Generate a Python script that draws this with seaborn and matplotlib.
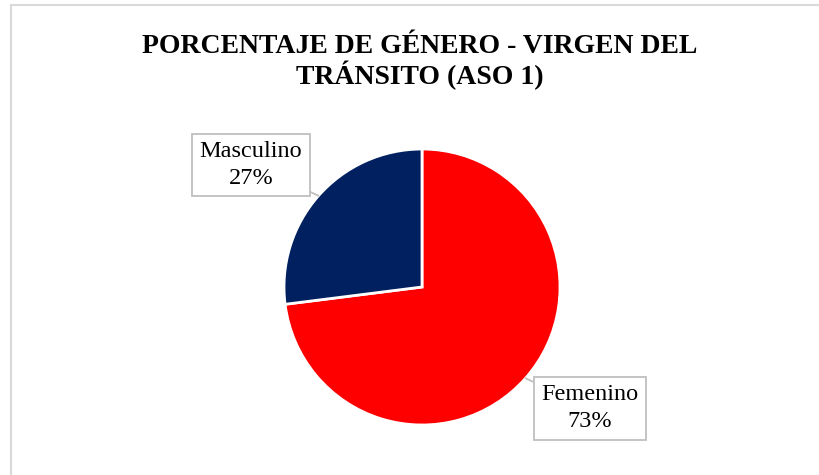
import numpy as np
import seaborn as sns
import matplotlib.pyplot as plt
from matplotlib.patches import Rectangle

categories = ['Femenino', 'Masculino']
values = [73, 27]
colors = ['#FF0000', '#002060']
title = 'PORCENTAJE DE GÉNERO - VIRGEN DEL\nTRÁNSITO (ASO 1)'

sns.set_theme(style='white')
plt.rcParams['font.family'] = ['Liberation Serif', 'DejaVu Serif']
plt.rcParams['text.color'] = 'black'

fig = plt.figure(figsize=(8.2, 4.75), dpi=100)
fig.patch.set_facecolor('white')

# light grey chart frame (runs off the right/bottom edge like the source)
fig.patches.append(Rectangle((11 / 820, -0.05), 1.1, 1 - 5 / 475 + 0.05,
                             transform=fig.transFigure, fill=False,
                             ec='#D9D9D9', lw=1.5, zorder=0))

fig.text(0.512, 1 - 62 / 475, title, ha='center', va='center',
         fontsize=20, fontweight='bold', linespacing=1.1, color='black')

ax = fig.add_axes([(422 - 138) / 820, (475 - 287 - 138) / 475, 276 / 820, 276 / 475])
wedges, _ = ax.pie(values, colors=colors, startangle=90, counterclock=False,
                   wedgeprops=dict(edgecolor='white', linewidth=2))
ax.set_xlim(-1, 1)
ax.set_ylim(-1, 1)

# label boxes with leader lines
label_pos = {'Femenino': (1.217, -0.877), 'Masculino': (-1.239, 0.884)}
total = sum(values)
for w, cat, v in zip(wedges, categories, values):
    mid = np.deg2rad((w.theta1 + w.theta2) / 2)
    xy = (np.cos(mid), np.sin(mid))
    ax.annotate(f'{cat}\n{v / total:.0%}', xy=xy, xytext=label_pos[cat],
                ha='center', va='center', fontsize=17.5, linespacing=1.4,
                color='black', annotation_clip=False,
                bbox=dict(boxstyle='square,pad=0.3', fc='white', ec='#BFBFBF', lw=1.3),
                arrowprops=dict(arrowstyle='-', color='#BFBFBF', lw=1.3,
                                shrinkA=0, shrinkB=0))

plt.savefig('out.png', dpi=100)
